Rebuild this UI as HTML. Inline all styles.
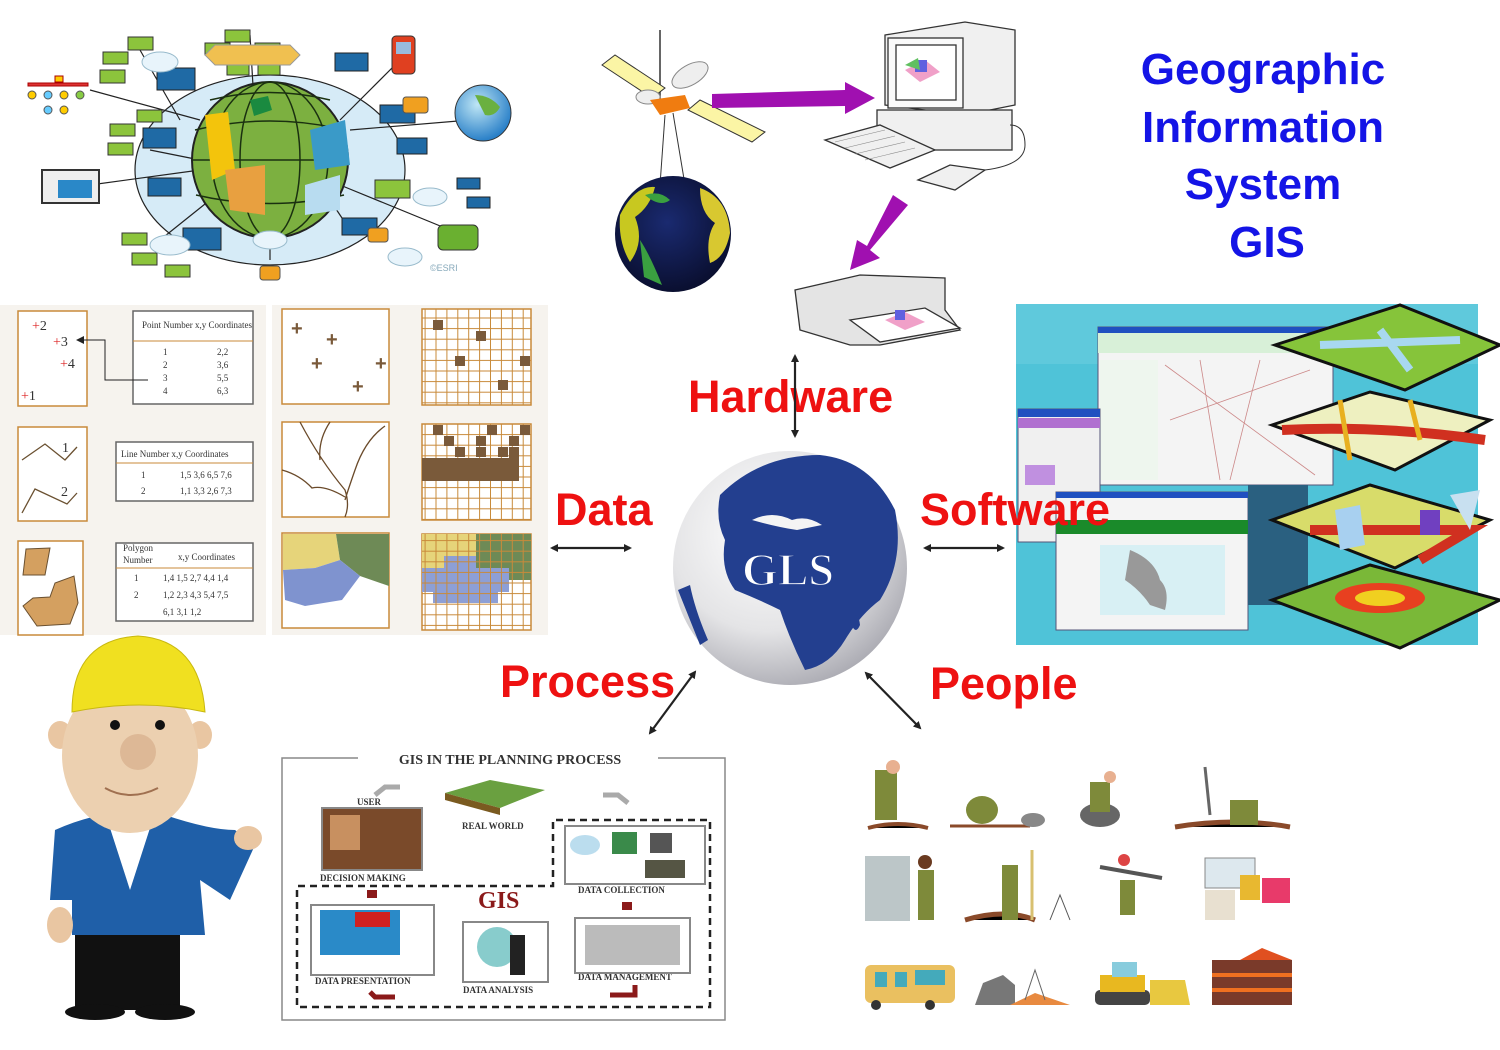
<!DOCTYPE html>
<html><head><meta charset="utf-8"><style>
html,body{margin:0;padding:0;background:#fff;}
svg{display:block;}
</style></head><body>
<svg width="1500" height="1050" viewBox="0 0 1500 1050" xmlns="http://www.w3.org/2000/svg" font-family="Liberation Sans, sans-serif">
<defs>
<marker id="ah" markerWidth="8" markerHeight="8" refX="6" refY="4" orient="auto-start-reverse" markerUnits="userSpaceOnUse" viewBox="0 0 8 8"><path d="M0,0 L8,4 L0,8 z" fill="#222"/></marker>
<radialGradient id="gg" cx="40%" cy="35%" r="70%"><stop offset="0" stop-color="#ffffff"/><stop offset="0.6" stop-color="#e4e4e6"/><stop offset="1" stop-color="#a8a8b0"/></radialGradient>
<radialGradient id="eg" cx="45%" cy="40%" r="60%"><stop offset="0" stop-color="#1a2a70"/><stop offset="1" stop-color="#0a0f30"/></radialGradient>
<radialGradient id="bg2" cx="40%" cy="35%" r="65%"><stop offset="0" stop-color="#bfe6f5"/><stop offset="1" stop-color="#2a80c8"/></radialGradient>
<pattern id="grid" width="10.9" height="10.6" patternUnits="userSpaceOnUse"><rect width="10.9" height="10.6" fill="none" stroke="#c88a3a" stroke-width="1"/></pattern>
</defs>

<!-- ========== Top-left network graphic ========== -->
<g stroke="#222" stroke-width="1.2">
<ellipse cx="270" cy="170" rx="135" ry="95" fill="#d6ebf7"/>
<line x1="90" y1="90" x2="200" y2="120"/><line x1="140" y1="50" x2="180" y2="120"/>
<line x1="150" y1="150" x2="200" y2="160"/><line x1="90" y1="185" x2="200" y2="170"/>
<line x1="160" y1="240" x2="210" y2="200"/><line x1="250" y1="35" x2="255" y2="120"/>
<line x1="400" y1="60" x2="340" y2="120"/><line x1="470" y1="120" x2="350" y2="130"/>
<line x1="450" y1="230" x2="340" y2="185"/><line x1="270" y1="260" x2="270" y2="230"/>
<line x1="350" y1="230" x2="330" y2="200"/>
</g>
<g fill="#8cc43c" stroke="#333" stroke-width="1">
<rect x="128" y="37" width="25" height="13"/><rect x="103" y="52" width="25" height="12"/><rect x="100" y="70" width="25" height="13"/>
<rect x="225" y="30" width="25" height="12"/><rect x="205" y="43" width="25" height="12"/><rect x="255" y="43" width="25" height="12"/>
<rect x="227" y="63" width="22" height="12"/><rect x="258" y="63" width="22" height="12"/>
<rect x="137" y="110" width="25" height="12"/><rect x="110" y="124" width="25" height="12"/><rect x="108" y="143" width="25" height="12"/>
<rect x="122" y="233" width="25" height="12"/><rect x="132" y="253" width="25" height="12"/><rect x="165" y="265" width="25" height="12"/>
<rect x="375" y="180" width="35" height="18"/>
</g>
<g fill="#1f6aa5" stroke="#222" stroke-width="1">
<rect x="157" y="68" width="38" height="22"/><rect x="143" y="128" width="33" height="20"/><rect x="148" y="178" width="33" height="18"/>
<rect x="183" y="228" width="38" height="22"/><rect x="335" y="53" width="33" height="18"/><rect x="380" y="105" width="35" height="18"/>
<rect x="397" y="138" width="30" height="16"/><rect x="342" y="218" width="35" height="17"/><rect x="457" y="178" width="23" height="11"/><rect x="467" y="197" width="23" height="11"/>
</g>
<path d="M205,55 L215,45 L290,45 L300,55 L290,65 L215,65 z" fill="#f0c050" stroke="#999"/>
<circle cx="270" cy="160" r="78" fill="#7cb040" stroke="#222" stroke-width="2"/>
<g fill="none" stroke="#1a3010" stroke-width="1.5">
<ellipse cx="270" cy="160" rx="30" ry="78"/><ellipse cx="270" cy="160" rx="58" ry="78"/>
<path d="M195,130 Q270,112 345,130"/><path d="M192,160 L348,160"/><path d="M196,195 Q270,212 344,195"/><path d="M210,100 Q270,85 330,100"/>
</g>
<path d="M205,115 L228,112 L235,170 L212,180 z" fill="#f3c40c"/>
<path d="M225,170 L265,165 L265,215 L230,210 z" fill="#e8a040"/>
<path d="M310,130 L345,120 L350,165 L315,170 z" fill="#3a9ac8"/>
<path d="M305,185 L340,175 L340,210 L305,215 z" fill="#b8dcf0"/>
<path d="M250,100 L268,96 L272,110 L254,116 z" fill="#1a8a40"/>
<rect x="42" y="170" width="57" height="33" fill="#eee" stroke="#333" stroke-width="2"/><rect x="58" y="180" width="34" height="18" fill="#2a88c8"/>
<circle cx="483" cy="113" r="28" fill="url(#bg2)" stroke="#333"/>
<path d="M475,95 q15,0 25,12 q-5,10 -15,8z" fill="#6ab040"/>
<rect x="392" y="36" width="23" height="38" rx="4" fill="#e04020" stroke="#333"/><rect x="396" y="42" width="15" height="12" fill="#9bd"/>
<g fill="#f0a020" stroke="#555"><rect x="403" y="97" width="25" height="16" rx="3"/><rect x="368" y="228" width="20" height="14" rx="3"/><rect x="260" y="266" width="20" height="14" rx="3"/></g>
<rect x="438" y="225" width="40" height="25" rx="5" fill="#6ab030" stroke="#333"/>
<g fill="#e8f4fb" stroke="#9bc"><ellipse cx="160" cy="62" rx="18" ry="10"/><ellipse cx="170" cy="245" rx="20" ry="10"/><ellipse cx="270" cy="240" rx="17" ry="9"/><ellipse cx="430" cy="197" rx="17" ry="9"/><ellipse cx="405" cy="257" rx="17" ry="9"/></g>
<g fill="#d33" stroke="#a00"><rect x="28" y="83" width="60" height="3"/><rect x="55" y="76" width="8" height="6" fill="#fc0"/></g>
<g fill="#fc0" stroke="#555"><circle cx="32" cy="95" r="4"/><circle cx="48" cy="95" r="4" fill="#6cf"/><circle cx="64" cy="95" r="4"/><circle cx="80" cy="95" r="4" fill="#8c4"/><circle cx="48" cy="110" r="4" fill="#6cf"/><circle cx="64" cy="110" r="4"/></g>
<text x="430" y="271" font-size="9" fill="#8ab">©ESRI</text>

<!-- ========== Satellite / computer / printer ========== -->
<line x1="660" y1="105" x2="660" y2="30" stroke="#333" stroke-width="1.5"/>
<polygon points="602,65 615,55 665,88 652,98" fill="#fbf5a5" stroke="#333"/>
<polygon points="688,110 700,100 765,132 752,142" fill="#fbf5a5" stroke="#333"/>
<ellipse cx="690" cy="75" rx="20" ry="10" fill="#eee" stroke="#888" transform="rotate(-30 690 75)"/>
<ellipse cx="648" cy="97" rx="12" ry="7" fill="#eee" stroke="#888"/>
<polygon points="650,100 685,95 690,108 660,115" fill="#f07c10"/>
<line x1="665" y1="115" x2="660" y2="185" stroke="#333"/><line x1="673" y1="113" x2="685" y2="185" stroke="#333"/>
<circle cx="673" cy="234" r="58" fill="url(#eg)"/>
<path d="M620,215 q15,-30 35,-28 q-5,20 -20,30 q10,25 -5,45 q-12,-20 -10,-47z" fill="#c8c820"/>
<path d="M700,188 q28,10 30,45 q-5,25 -20,30 q-5,-25 5,-40 q-15,-10 -15,-35z" fill="#d8c830"/>
<path d="M640,240 q10,15 22,45 l-18,-8z" fill="#3aa040"/>
<path d="M645,195 q15,-5 25,5 q-10,8 -25,-5z" fill="#3aa040"/>
<polygon points="712,94 845,90 845,82 875,98 845,114 845,106 712,108" fill="#a010b0"/>
<polygon points="893,195 908,205 870,250 880,258 850,270 857,240 867,246" fill="#a010b0"/>
<!-- computer -->
<g stroke="#333" stroke-width="1.3" fill="#f0f0f0">
<polygon points="885,35 965,22 1015,30 1015,105 965,115 885,105"/>
<rect x="888" y="38" width="75" height="70" fill="#fafafa"/>
<rect x="896" y="45" width="60" height="55" fill="#fff"/>
<rect x="877" y="110" width="135" height="40"/>
<polygon points="825,140 880,125 935,150 890,168"/>
<polygon points="918,180 950,165 985,170 955,190"/>
</g>
<g stroke="#888" stroke-width="0.6"><line x1="835" y1="142" x2="885" y2="130"/><line x1="845" y1="148" x2="895" y2="136"/><line x1="855" y1="154" x2="905" y2="142"/><line x1="865" y1="160" x2="915" y2="148"/></g>
<path d="M985,170 q40,-5 40,-25 q0,-20 -15,-20" fill="none" stroke="#333"/>
<polygon points="905,70 925,60 940,72 920,82" fill="#f0a0c8"/><rect x="915" y="60" width="12" height="12" fill="#6060e0"/><polygon points="905,65 918,58 920,70" fill="#60c060"/>
<!-- printer -->
<g stroke="#333" stroke-width="1.3" fill="#e4e4e4">
<polygon points="795,290 860,275 945,278 945,310 960,330 880,345 850,345 800,330"/>
<polygon points="850,320 925,308 960,328 880,342" fill="#fff"/>
</g>
<polygon points="885,320 905,312 925,322 905,330" fill="#f0a0c8"/><rect x="895" y="310" width="10" height="10" fill="#6060e0"/>

<!-- ========== Title ========== -->
<g font-family="Liberation Sans, DejaVu Sans, sans-serif" font-weight="bold" font-size="44" fill="#1414e6" text-anchor="middle">
<text x="1263" y="84">Geographic</text>
<text x="1263" y="142">Information</text>
<text x="1263" y="199">System</text>
<text x="1267" y="257">GIS</text>
</g>

<!-- ========== Data panels ========== -->
<rect x="0" y="305" width="266" height="330" fill="#f6f3ee"/>
<rect x="272" y="305" width="276" height="330" fill="#f6f3ee"/>
<g fill="#fff" stroke="#c88a3a" stroke-width="1.5">
<rect x="18" y="311" width="69" height="95"/><rect x="18" y="427" width="69" height="94"/><rect x="18" y="541" width="65" height="94"/>
<rect x="282" y="309" width="107" height="95"/><rect x="282" y="422" width="107" height="95"/><rect x="282" y="533" width="107" height="95"/>
<rect x="422" y="309" width="109" height="96"/><rect x="422" y="424" width="109" height="96"/><rect x="422" y="534" width="109" height="96"/>
</g>
<g fill="#fff" stroke="#666" stroke-width="1.5">
<rect x="133" y="311" width="120" height="93"/><rect x="116" y="442" width="137" height="59"/><rect x="116" y="543" width="137" height="78"/>
</g>
<g stroke="#c88a3a"><line x1="133" y1="341" x2="253" y2="341"/><line x1="116" y1="463" x2="253" y2="463"/><line x1="116" y1="568" x2="253" y2="568"/></g>
<g font-family="Liberation Serif, serif" font-size="9" fill="#333">
<text x="142" y="328">Point Number   x,y Coordinates</text>
<text x="163" y="355">1</text><text x="163" y="368">2</text><text x="163" y="381">3</text><text x="163" y="394">4</text>
<text x="217" y="355">2,2</text><text x="217" y="368">3,6</text><text x="217" y="381">5,5</text><text x="217" y="394">6,3</text>
<text x="121" y="457">Line Number       x,y Coordinates</text>
<text x="141" y="478">1</text><text x="141" y="494">2</text><text x="180" y="478">1,5  3,6  6,5  7,6</text><text x="180" y="494">1,1  3,3  2,6  7,3</text>
<text x="123" y="551">Polygon</text><text x="123" y="563">Number</text><text x="178" y="560">x,y Coordinates</text>
<text x="134" y="581">1</text><text x="134" y="598">2</text><text x="163" y="581">1,4  1,5  2,7  4,4  1,4</text><text x="163" y="598">1,2  2,3  4,3  5,4  7,5</text><text x="163" y="615">6,1  3,1  1,2</text>
</g>
<g font-family="Liberation Serif, serif" font-size="14" fill="#333">
<text x="32" y="330"><tspan fill="#d22">+</tspan>2</text><text x="53" y="346"><tspan fill="#d22">+</tspan>3</text>
<text x="60" y="368"><tspan fill="#d22">+</tspan>4</text><text x="21" y="400"><tspan fill="#d22">+</tspan>1</text>
<text x="62" y="452">1</text><text x="61" y="496">2</text><text x="34" y="569">1</text><text x="58" y="616">2</text>
</g>
<polyline points="148,380 105,380 105,340 80,340" fill="none" stroke="#222"/><polygon points="76,340 84,336 84,344" fill="#222"/>
<g fill="none" stroke="#6a5030" stroke-width="1.3"><polyline points="22,460 45,444 65,460 77,447"/><polyline points="22,513 35,489 67,504 77,493"/></g>
<g fill="#d4a060" stroke="#6a5030"><polygon points="26,549 50,548 45,575 23,575"/><polygon points="23,606 33,598 50,597 55,583 74,576 78,603 70,624 37,626"/></g>
<g font-size="20" fill="#7a5a3a" font-weight="bold"><text x="291" y="335">+</text><text x="326" y="346">+</text><text x="311" y="370">+</text><text x="375" y="370">+</text><text x="352" y="393">+</text></g>
<path d="M300,422 Q320,460 345,490 Q350,505 345,517 M330,422 Q318,440 320,460 M385,426 Q365,440 355,470 Q348,490 345,500 M282,470 Q300,475 312,488 Q325,485 345,497" fill="none" stroke="#6a4a2a" stroke-width="1.3"/>
<polygon points="283,534 336,534 340,560 315,568 283,570" fill="#e6d47a"/>
<polygon points="336,534 389,534 389,586 360,576 340,560" fill="#6e8a56"/>
<polygon points="283,570 315,568 340,560 360,576 342,600 305,606 285,600" fill="#7f93cf"/>
<rect x="422" y="309" width="109" height="96" fill="url(#grid)"/><rect x="422" y="424" width="109" height="96" fill="url(#grid)"/>
<g fill="#7a5a3a"><rect x="433" y="320" width="10" height="10"/><rect x="476" y="331" width="10" height="10"/><rect x="455" y="356" width="10" height="10"/><rect x="520" y="356" width="10" height="10"/><rect x="498" y="380" width="10" height="10"/>
<rect x="433" y="425" width="10" height="10"/><rect x="487" y="425" width="10" height="10"/><rect x="520" y="425" width="10" height="10"/><rect x="444" y="436" width="10" height="10"/><rect x="476" y="436" width="10" height="10"/><rect x="509" y="436" width="10" height="10"/>
<rect x="455" y="447" width="10" height="10"/><rect x="476" y="447" width="10" height="10"/><rect x="498" y="447" width="10" height="10"/><rect x="422" y="458" width="96" height="23"/><rect x="509" y="447" width="10" height="34"/></g>
<rect x="422" y="534" width="54" height="34" fill="#e6d47a"/><rect x="476" y="534" width="55" height="46" fill="#6e8a56"/>
<polygon points="422,568 444,568 444,556 476,556 476,568 509,568 509,592 498,592 498,603 433,603 433,592 422,592" fill="#8d9fd6"/>
<rect x="422" y="534" width="109" height="96" fill="url(#grid)"/>

<!-- ========== Software image ========== -->
<rect x="1016" y="304" width="462" height="341" fill="#4fc3d8"/>
<rect x="1016" y="304" width="462" height="60" fill="#6acde0" opacity="0.6"/>
<rect x="1098" y="327" width="235" height="158" fill="#f4f4f4" stroke="#557"/>
<rect x="1098" y="327" width="235" height="6" fill="#2050c0"/>
<rect x="1098" y="333" width="235" height="20" fill="#d8f0d8"/>
<rect x="1100" y="360" width="58" height="120" fill="#eef6ee"/>
<g stroke="#c88" stroke-width="0.8" fill="none"><path d="M1165,365 l150,110 M1170,420 l140,-50 M1200,360 l20,120 M1260,360 l-30,120"/></g>
<rect x="1018" y="409" width="82" height="133" fill="#f0f0f0" stroke="#557"/><rect x="1018" y="409" width="82" height="8" fill="#2050c0"/><rect x="1018" y="418" width="82" height="10" fill="#b070d0"/><rect x="1025" y="465" width="30" height="20" fill="#c090e0"/>
<rect x="1056" y="492" width="192" height="138" fill="#f4f4f4" stroke="#557"/>
<rect x="1056" y="492" width="192" height="6" fill="#2050c0"/><rect x="1056" y="520" width="192" height="14" fill="#1a8a2a"/>
<rect x="1100" y="545" width="125" height="70" fill="#d8f0f4"/>
<path d="M1130,550 q25,10 30,30 q10,10 5,30 l-15,-5 q-10,-15 -25,-25z" fill="#999"/>
<rect x="1248" y="485" width="60" height="120" fill="#2a6080"/>
<g stroke="#111" stroke-width="3">
<polygon points="1275,345 1400,305 1500,345 1405,390" fill="#86c43a"/>
<polygon points="1272,425 1370,392 1490,420 1395,470" fill="#eef0c0"/>
<polygon points="1272,520 1370,485 1490,520 1395,568" fill="#d8dc6a"/>
<polygon points="1272,600 1370,565 1500,600 1400,648" fill="#7ab838"/>
</g>
<path d="M1320,345 L1460,340 M1380,330 L1410,370" stroke="#a8d8f0" stroke-width="8" fill="none"/>
<path d="M1282,430 Q1380,425 1485,440" stroke="#d03020" stroke-width="10" fill="none"/>
<path d="M1340,400 L1350,460 M1410,400 L1420,440" stroke="#e8b020" stroke-width="5" fill="none"/>
<path d="M1310,530 L1470,530 L1420,560" stroke="#d03020" stroke-width="10" fill="none"/>
<polygon points="1335,510 1360,505 1365,545 1340,550" fill="#a8d0f0"/><polygon points="1450,495 1480,490 1470,530" fill="#c8e0f0"/><rect x="1420" y="510" width="20" height="25" fill="#7040c0"/>
<ellipse cx="1380" cy="598" rx="45" ry="15" fill="#e84020"/><ellipse cx="1380" cy="598" rx="25" ry="8" fill="#f0d020"/>

<!-- ========== Central globe ========== -->
<circle cx="790" cy="568" r="117" fill="url(#gg)"/>
<path d="M720,495 Q760,455 820,455 Q870,460 895,510 Q905,560 880,600 Q860,615 845,640 Q830,665 805,670 Q790,640 780,610 Q760,600 735,590 Q720,570 725,540 Q715,520 720,495z" fill="#233f8f"/>
<path d="M678,590 Q690,620 700,645 L708,640 Q695,610 690,585z" fill="#233f8f"/>
<path d="M850,620 q8,-12 10,5 q-5,12 -10,-5z" fill="#233f8f"/>
<path d="M752,520 q20,-10 40,0 q15,-5 30,5 l-25,5 q-20,-3 -45,-10z" fill="#f4f4f4"/>
<text x="788" y="585" text-anchor="middle" font-family="Liberation Serif, serif" font-weight="bold" font-size="46" fill="#fff" stroke="#233f8f" stroke-width="1.5">GLS</text>

<!-- ========== Labels & arrows ========== -->
<g font-family="Liberation Sans, DejaVu Sans, sans-serif" font-weight="bold" font-size="45" fill="#ee1111">
<text x="688" y="412">Hardware</text>
<text x="555" y="525">Data</text>
<text x="920" y="525">Software</text>
<text x="500" y="697">Process</text>
<text x="930" y="699">People</text>
</g>
<g stroke="#222" stroke-width="2.2" fill="none">
<line x1="795" y1="356" x2="795" y2="436" marker-start="url(#ah)" marker-end="url(#ah)"/>
<line x1="552" y1="548" x2="630" y2="548" marker-start="url(#ah)" marker-end="url(#ah)"/>
<line x1="925" y1="548" x2="1003" y2="548" marker-start="url(#ah)" marker-end="url(#ah)"/>
<line x1="695" y1="672" x2="650" y2="733" marker-start="url(#ah)" marker-end="url(#ah)"/>
<line x1="866" y1="673" x2="920" y2="728" marker-start="url(#ah)" marker-end="url(#ah)"/>
</g>

<!-- ========== Worker ========== -->
<rect x="75" y="930" width="105" height="80" fill="#111"/>
<ellipse cx="95" cy="1012" rx="30" ry="8" fill="#111"/><ellipse cx="165" cy="1012" rx="30" ry="8" fill="#111"/>
<path d="M55,830 Q110,805 165,815 Q210,830 235,830 L255,845 L230,900 L200,880 L205,935 L72,935 L72,900 L50,900z" fill="#1f5fa8"/>
<polygon points="110,828 150,828 130,890" fill="#fff"/>
<ellipse cx="248" cy="838" rx="14" ry="12" fill="#e9c6a2"/>
<ellipse cx="60" cy="735" rx="12" ry="14" fill="#e9c6a2"/><ellipse cx="200" cy="735" rx="12" ry="14" fill="#e9c6a2"/>
<ellipse cx="130" cy="755" rx="68" ry="78" fill="#ecd0b0"/>
<circle cx="138" cy="752" r="18" fill="#ddb896"/>
<circle cx="115" cy="725" r="5" fill="#111"/><circle cx="160" cy="725" r="5" fill="#111"/>
<path d="M105,788 Q130,802 158,788" fill="none" stroke="#a07050" stroke-width="2"/>
<path d="M72,712 Q72,640 138,636 Q200,640 205,712 Q140,698 72,712z" fill="#f0e020" stroke="#c8b810"/>
<ellipse cx="60" cy="925" rx="13" ry="18" fill="#e9c6a2"/>

<!-- ========== Planning process ========== -->
<rect x="282" y="758" width="443" height="262" fill="#fff" stroke="#888" stroke-width="1.5"/>
<rect x="358" y="750" width="300" height="16" fill="#fff"/>
<text x="510" y="764" text-anchor="middle" font-family="Liberation Serif, serif" font-weight="bold" font-size="14" fill="#333">GIS IN THE PLANNING PROCESS</text>
<path d="M553,822 L553,886 L297,886 L297,1007 L710,1007 L710,820 L553,820" fill="none" stroke="#222" stroke-width="2.5" stroke-dasharray="7,5"/>
<g font-family="Liberation Serif, serif" font-weight="bold" font-size="9" fill="#333">
<text x="357" y="805">USER</text><text x="462" y="829">REAL WORLD</text><text x="320" y="881">DECISION MAKING</text>
<text x="578" y="893">DATA COLLECTION</text><text x="315" y="984">DATA PRESENTATION</text><text x="463" y="993">DATA ANALYSIS</text><text x="578" y="980">DATA MANAGEMENT</text>
</g>
<text x="478" y="908" font-family="Liberation Serif, serif" font-weight="bold" font-size="24" fill="#8b1a1a">GIS</text>
<rect x="322" y="808" width="100" height="62" fill="#7a4a2a" stroke="#888" stroke-width="2"/><rect x="330" y="815" width="30" height="35" fill="#c89060"/>
<polygon points="445,793 490,780 545,790 500,808" fill="#6aa040"/><polygon points="445,793 500,808 500,815 445,800" fill="#7a5a20"/>
<rect x="565" y="826" width="140" height="58" fill="#fff" stroke="#888" stroke-width="2"/>
<rect x="612" y="832" width="25" height="22" fill="#3a8a4a"/><rect x="650" y="833" width="22" height="20" fill="#555"/><ellipse cx="585" cy="845" rx="15" ry="10" fill="#bde"/><rect x="645" y="860" width="40" height="18" fill="#554"/>
<rect x="311" y="905" width="123" height="70" fill="#fff" stroke="#888" stroke-width="2"/><rect x="320" y="910" width="80" height="45" fill="#2a8ac8"/><rect x="355" y="912" width="35" height="15" fill="#d02020"/>
<rect x="463" y="922" width="85" height="60" fill="#fff" stroke="#888" stroke-width="2"/><circle cx="497" cy="947" r="20" fill="#8cc"/><rect x="510" y="935" width="15" height="40" fill="#222"/>
<rect x="575" y="918" width="115" height="55" fill="#fff" stroke="#888" stroke-width="2"/><rect x="585" y="925" width="95" height="40" fill="#bbb"/>
<path d="M603,795 h15 l10,8" stroke="#aaa" stroke-width="5" fill="none"/><path d="M375,795 l10,-8 h15" stroke="#aaa" stroke-width="5" fill="none"/>
<rect x="367" y="890" width="10" height="8" fill="#8b1a1a"/><rect x="622" y="902" width="10" height="8" fill="#8b1a1a"/>
<path d="M395,997 h-20 l-5,-5" stroke="#8b1a1a" stroke-width="5" fill="none"/><path d="M610,995 h25 v-10" stroke="#8b1a1a" stroke-width="5" fill="none"/>

<!-- ========== People icons ========== -->
<g>
<path d="M868,828 q30,-8 60,0" stroke="#8a4a2a" stroke-width="4"/><rect x="875" y="770" width="22" height="50" fill="#7e8a3a"/><circle cx="893" cy="767" r="7" fill="#e8b090"/>
<path d="M950,826 h80" stroke="#8a4a2a" stroke-width="3"/><ellipse cx="982" cy="810" rx="16" ry="14" fill="#7e8a3a"/><ellipse cx="1033" cy="820" rx="12" ry="7" fill="#888"/>
<ellipse cx="1100" cy="815" rx="20" ry="12" fill="#666"/><rect x="1090" y="782" width="20" height="30" fill="#7e8a3a"/><circle cx="1110" cy="777" r="6" fill="#e8b090"/>
<path d="M1175,827 q60,-10 115,0" stroke="#8a4a2a" stroke-width="5"/><rect x="1230" y="800" width="28" height="25" fill="#7e8a3a"/><line x1="1205" y1="767" x2="1210" y2="815" stroke="#666" stroke-width="3"/>
<rect x="865" y="856" width="45" height="65" fill="#bcc6c8"/><rect x="918" y="870" width="16" height="50" fill="#7e8a3a"/><circle cx="925" cy="862" r="7" fill="#6a3a20"/>
<path d="M965,920 q40,-12 70,0" stroke="#8a4a2a" stroke-width="5"/><rect x="1002" y="865" width="16" height="55" fill="#7e8a3a"/><line x1="1032" y1="850" x2="1032" y2="920" stroke="#d8c070" stroke-width="3"/><path d="M1050,920 l10,-25 l10,25" stroke="#555" fill="none"/>
<rect x="1120" y="880" width="15" height="35" fill="#7e8a3a"/><line x1="1100" y1="867" x2="1162" y2="878" stroke="#555" stroke-width="4"/><circle cx="1124" cy="860" r="6" fill="#d44"/>
<rect x="1205" y="858" width="50" height="30" fill="#dde8ee" stroke="#888"/><rect x="1205" y="890" width="30" height="30" fill="#e8e0d0"/><rect x="1240" y="875" width="20" height="25" fill="#e8b830"/><rect x="1262" y="878" width="28" height="25" fill="#e83a6a"/>
<rect x="865" y="965" width="90" height="38" rx="6" fill="#eac060"/><rect x="875" y="972" width="12" height="15" fill="#4ab"/><rect x="895" y="972" width="12" height="15" fill="#4ab"/><rect x="915" y="970" width="30" height="15" fill="#4ab"/><circle cx="876" cy="1005" r="5" fill="#333"/><circle cx="930" cy="1005" r="5" fill="#333"/>
<path d="M975,1005 l8,-22 l20,-8 l12,10 l0,20z" fill="#777"/><path d="M1010,1005 l25,-12 l35,12z" fill="#e88a40"/><path d="M1025,1000 l10,-30 l10,30" stroke="#666" fill="none"/>
<rect x="1095" y="990" width="55" height="15" rx="5" fill="#444"/><rect x="1100" y="975" width="45" height="17" fill="#e8b820"/><rect x="1112" y="962" width="25" height="15" fill="#8cd"/><polygon points="1150,980 1185,980 1190,1005 1150,1005" fill="#e8c840"/>
<rect x="1212" y="960" width="80" height="45" fill="#7a3a2a"/><path d="M1212,975 h80 M1212,990 h80" stroke="#f07020" stroke-width="4"/><polygon points="1240,960 1262,948 1292,960" fill="#e05020"/>
</g>
</svg>
</body></html>
